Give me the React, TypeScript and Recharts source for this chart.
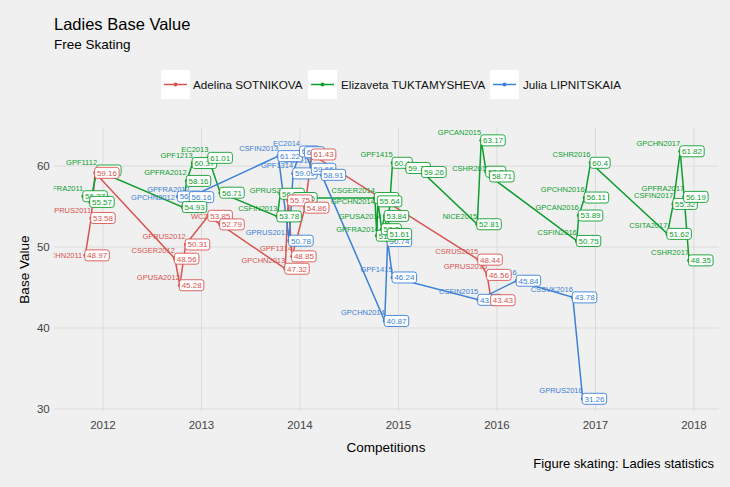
import React from 'react';
import { LineChart, Line, XAxis, YAxis, CartesianGrid } from 'recharts';

// competitions, dates (decimal years) and free-skate base values per skater
// '' = name label not shown in the picture
const adelinaEvents = ['GPCHN2011', 'GPRUS2011', '', 'CSGER2012', 'GPUSA2012', 'GPRUS2012', '', 'WC2013', 'GPCHN2013', '', 'GPF1314', '', '', 'CSRUS2015', 'GPRUS2015', ''];
const adelinaDates = [2011.82, 2011.88, 2011.92, 2012.73, 2012.78, 2012.84, 2013.07, 2013.19, 2013.85, 2013.88, 2013.92, 2014.05, 2014.12, 2015.81, 2015.9, 2015.94];
const adelinaValues = [48.97, 53.58, 59.16, 48.56, 45.28, 50.31, 53.85, 52.79, 47.32, 55.75, 48.85, 54.86, 61.43, 48.44, 46.56, 43.43];

const elizavetaEvents = ['GPFRA2011', '', 'GPF1112', '', 'GPFRA2012', 'GPF1213', 'EC2013', '', 'CSFIN2013', '', 'GPRUS2013', 'CSGER2014', '', 'GPCHN2014', 'GPFRA2014', 'GPUSA2014', '', 'GPF1415', '', '', 'NICE2015', 'GPCAN2015', '', 'CSHR2015', 'CSFIN2016', 'GPCAN2016', 'GPCHN2016', 'CSHR2016', 'CSITA2017', 'CSFIN2017', 'GPCHN2017', 'GPFRA2017', 'CSHR2017'];
const elizavetaDates = [2011.8, 2011.87, 2011.94, 2012.81, 2012.85, 2012.91, 2013.07, 2013.19, 2013.77, 2013.8, 2013.93, 2014.76, 2014.78, 2014.79, 2014.83, 2014.86, 2014.89, 2014.94, 2015.08, 2015.24, 2015.8, 2015.84, 2015.89, 2015.93, 2016.81, 2016.83, 2016.89, 2016.95, 2017.73, 2017.79, 2017.86, 2017.9, 2017.95];
const elizavetaValues = [56.27, 55.57, 59.45, 54.93, 58.16, 60.37, 61.01, 56.71, 53.78, 56.57, 56.05, 56.05, 51.4, 55.64, 52.2, 53.84, 51.61, 60.4, 59.76, 59.26, 52.81, 63.17, 59.3, 58.71, 50.75, 53.89, 56.11, 60.4, 51.62, 55.32, 61.82, 56.19, 48.35];

const juliaEvents = ['GPCHN2012', 'GPFRA2012', 'CSFIN2013', 'GPRUS2013', 'GPF1314', 'EC2014', '', 'OG2014', '', 'GPCHN2014', '', 'GPF1415', 'CSFIN2015', 'WC2016', 'CSSVK2016', 'GPRUS2016'];
const juliaDates = [2012.76, 2012.88, 2013.78, 2013.89, 2013.93, 2014.0, 2014.05, 2014.12, 2014.22, 2014.86, 2014.89, 2014.94, 2015.81, 2016.2, 2016.77, 2016.87];
const juliaValues = [56.23, 56.16, 61.22, 50.78, 59.09, 61.8, 61.7, 59.66, 58.91, 40.87, 50.74, 46.24, 43.48, 45.84, 43.78, 31.26];

const skaters = ['Adelina SOTNIKOVA', 'Elizaveta TUKTAMYSHEVA', 'Julia LIPNITSKAIA'];
const xTicks = [2012, 2013, 2014, 2015, 2016, 2017, 2018];
const yTicks = [30, 40, 50, 60];

const RED = '#D9534F';
const GREEN = '#0E9E2E';
const BLUE = '#3A80D6';
const FONT = '"Liberation Sans", Arial, sans-serif';

// name labels that sit beside their point instead of above it
const besideLabels = ['red:GPCHN2011', 'blue:GPCHN2012', 'green:GPCHN2014', 'green:GPUSA2014', 'green:GPFRA2014'];

const toRows = (events: string[], dates: number[], values: number[]) =>
  events.map((name, i) => ({ name, x: dates[i], y: values[i] }));

const adelina = toRows(adelinaEvents, adelinaDates, adelinaValues);
const elizaveta = toRows(elizavetaEvents, elizavetaDates, elizavetaValues);
const julia = toRows(juliaEvents, juliaDates, juliaValues);

// plot panel in page pixels
const PANEL = { left: 53.75, right: 718.6, top: 127.4, bottom: 411.75 };

const textWidth = (s: string, size: number) =>
  s.split('').reduce((w, c) => w + (c === '.' ? 0.278 : 0.556), 0) * size;

// point + competition name
const nameDot = (key: string, color: string, withDefs: boolean) => (props: any) => {
  const { cx, cy, payload, index } = props;
  const beside = besideLabels.includes(`${key}:${payload.name}`);
  return (
    <g key={`n-${key}-${index}`}>
      {withDefs && index === 0 ? (
        <defs>
          <clipPath id="panel-clip">
            <rect x={PANEL.left} y={PANEL.top} width={PANEL.right - PANEL.left} height={PANEL.bottom - PANEL.top} />
          </clipPath>
        </defs>
      ) : null}
      <circle cx={cx} cy={cy} r={1.9} fill={color} />
      {payload.name ? (
        <text
          x={beside ? cx - 3 : cx}
          y={beside ? cy + 3 : cy - 5.5}
          textAnchor="end"
          fontSize={7.5}
          fill={color}
          fontFamily={FONT}
          clipPath="url(#panel-clip)"
        >
          {payload.name}
        </text>
      ) : null}
    </g>
  );
};

// value box
const valueDot = (key: string, color: string) => (props: any) => {
  const { cx, cy, payload, index } = props;
  const label = String(payload.y);
  const w = textWidth(label, 8) + 4.5;
  return (
    <g key={`v-${key}-${index}`}>
      <rect x={cx - 0.5} y={cy - 5.5} width={w} height={11} rx={2.5} fill="#ffffff" stroke={color} strokeWidth={0.9} />
      <text x={cx + 1.8} y={cy + 2.9} fontSize={8} fill={color} fontFamily={FONT}>
        {label}
      </text>
    </g>
  );
};

const series = [
  { key: 'red', name: skaters[0], data: adelina, color: RED },
  { key: 'green', name: skaters[1], data: elizaveta, color: GREEN },
  { key: 'blue', name: skaters[2], data: julia, color: BLUE },
];
// labels are stacked Julia, Elizaveta, Adelina (last on top)
const labelOrder = [series[2], series[1], series[0]];

const legendKeys = [161, 308, 490];
const legendText = [193, 341, 523];

const App = () => {
  return (
    <div style={{ position: 'absolute', left: 0, top: 0, width: 730, height: 487, background: '#F0F0F0', fontFamily: FONT }}>
      <LineChart width={730} height={487} margin={{ top: PANEL.top, right: 730 - PANEL.right, bottom: 487 - PANEL.bottom - 30, left: PANEL.left - 40 }}>
        <CartesianGrid stroke="#DCDCDC" strokeWidth={1} syncWithTicks />
        <XAxis
          type="number"
          dataKey="x"
          domain={[2011.5, 2018.25]}
          ticks={xTicks}
          height={30}
          tickLine={false}
          axisLine={false}
          tickSize={0}
          tickMargin={9}
          tick={{ fontSize: 11.5, fill: '#444444', fontFamily: FONT }}
        />
        <YAxis
          type="number"
          domain={[29.66, 64.77]}
          ticks={yTicks}
          width={40}
          tickLine={false}
          axisLine={false}
          tickSize={0}
          tickMargin={4}
          tick={{ fontSize: 11.5, fill: '#444444', fontFamily: FONT }}
        />
        {series.map((s) => (
          <Line
            key={`line-${s.key}`}
            data={s.data}
            dataKey="y"
            type="linear"
            stroke={s.color}
            strokeWidth={1.5}
            dot={false}
            activeDot={false}
            legendType="none"
            isAnimationActive={false}
          />
        ))}
        {labelOrder.map((s, i) => (
          <Line
            key={`names-${s.key}`}
            data={s.data}
            dataKey="y"
            stroke="none"
            dot={nameDot(s.key, s.color, i === 0)}
            activeDot={false}
            legendType="none"
            isAnimationActive={false}
          />
        ))}
        {labelOrder.map((s) => (
          <Line
            key={`values-${s.key}`}
            data={s.data}
            dataKey="y"
            stroke="none"
            dot={valueDot(s.key, s.color)}
            activeDot={false}
            legendType="none"
            isAnimationActive={false}
          />
        ))}
      </LineChart>
      <svg width={730} height={487} style={{ position: 'absolute', left: 0, top: 0, pointerEvents: 'none' }}>
        <text x={54} y={30} fontSize={16.5} fill="#000" fontFamily={FONT}>Ladies Base Value</text>
        <text x={54} y={49} fontSize={13.5} fill="#000" fontFamily={FONT}>Free Skating</text>
        {series.map((s, i) => (
          <g key={`leg-${s.key}`}>
            <rect x={legendKeys[i]} y={70} width={29} height={29} fill="#ffffff" />
            <line x1={legendKeys[i] + 3} x2={legendKeys[i] + 26} y1={84.5} y2={84.5} stroke={s.color} strokeWidth={1.5} />
            <circle cx={legendKeys[i] + 14.5} cy={84.5} r={2} fill={s.color} />
            <text x={legendText[i]} y={88.5} fontSize={11.7} fill="#111" fontFamily={FONT}>{s.name}</text>
          </g>
        ))}
        <text transform="translate(29, 269.6) rotate(-90)" textAnchor="middle" fontSize={13.5} fill="#000" fontFamily={FONT}>Base Value</text>
        <text x={386} y={452} textAnchor="middle" fontSize={13.5} fill="#000" fontFamily={FONT}>Competitions</text>
        <text x={714} y={468} textAnchor="end" fontSize={13} fill="#000" fontFamily={FONT}>Figure skating: Ladies statistics</text>
      </svg>
    </div>
  );
};

export default App;
